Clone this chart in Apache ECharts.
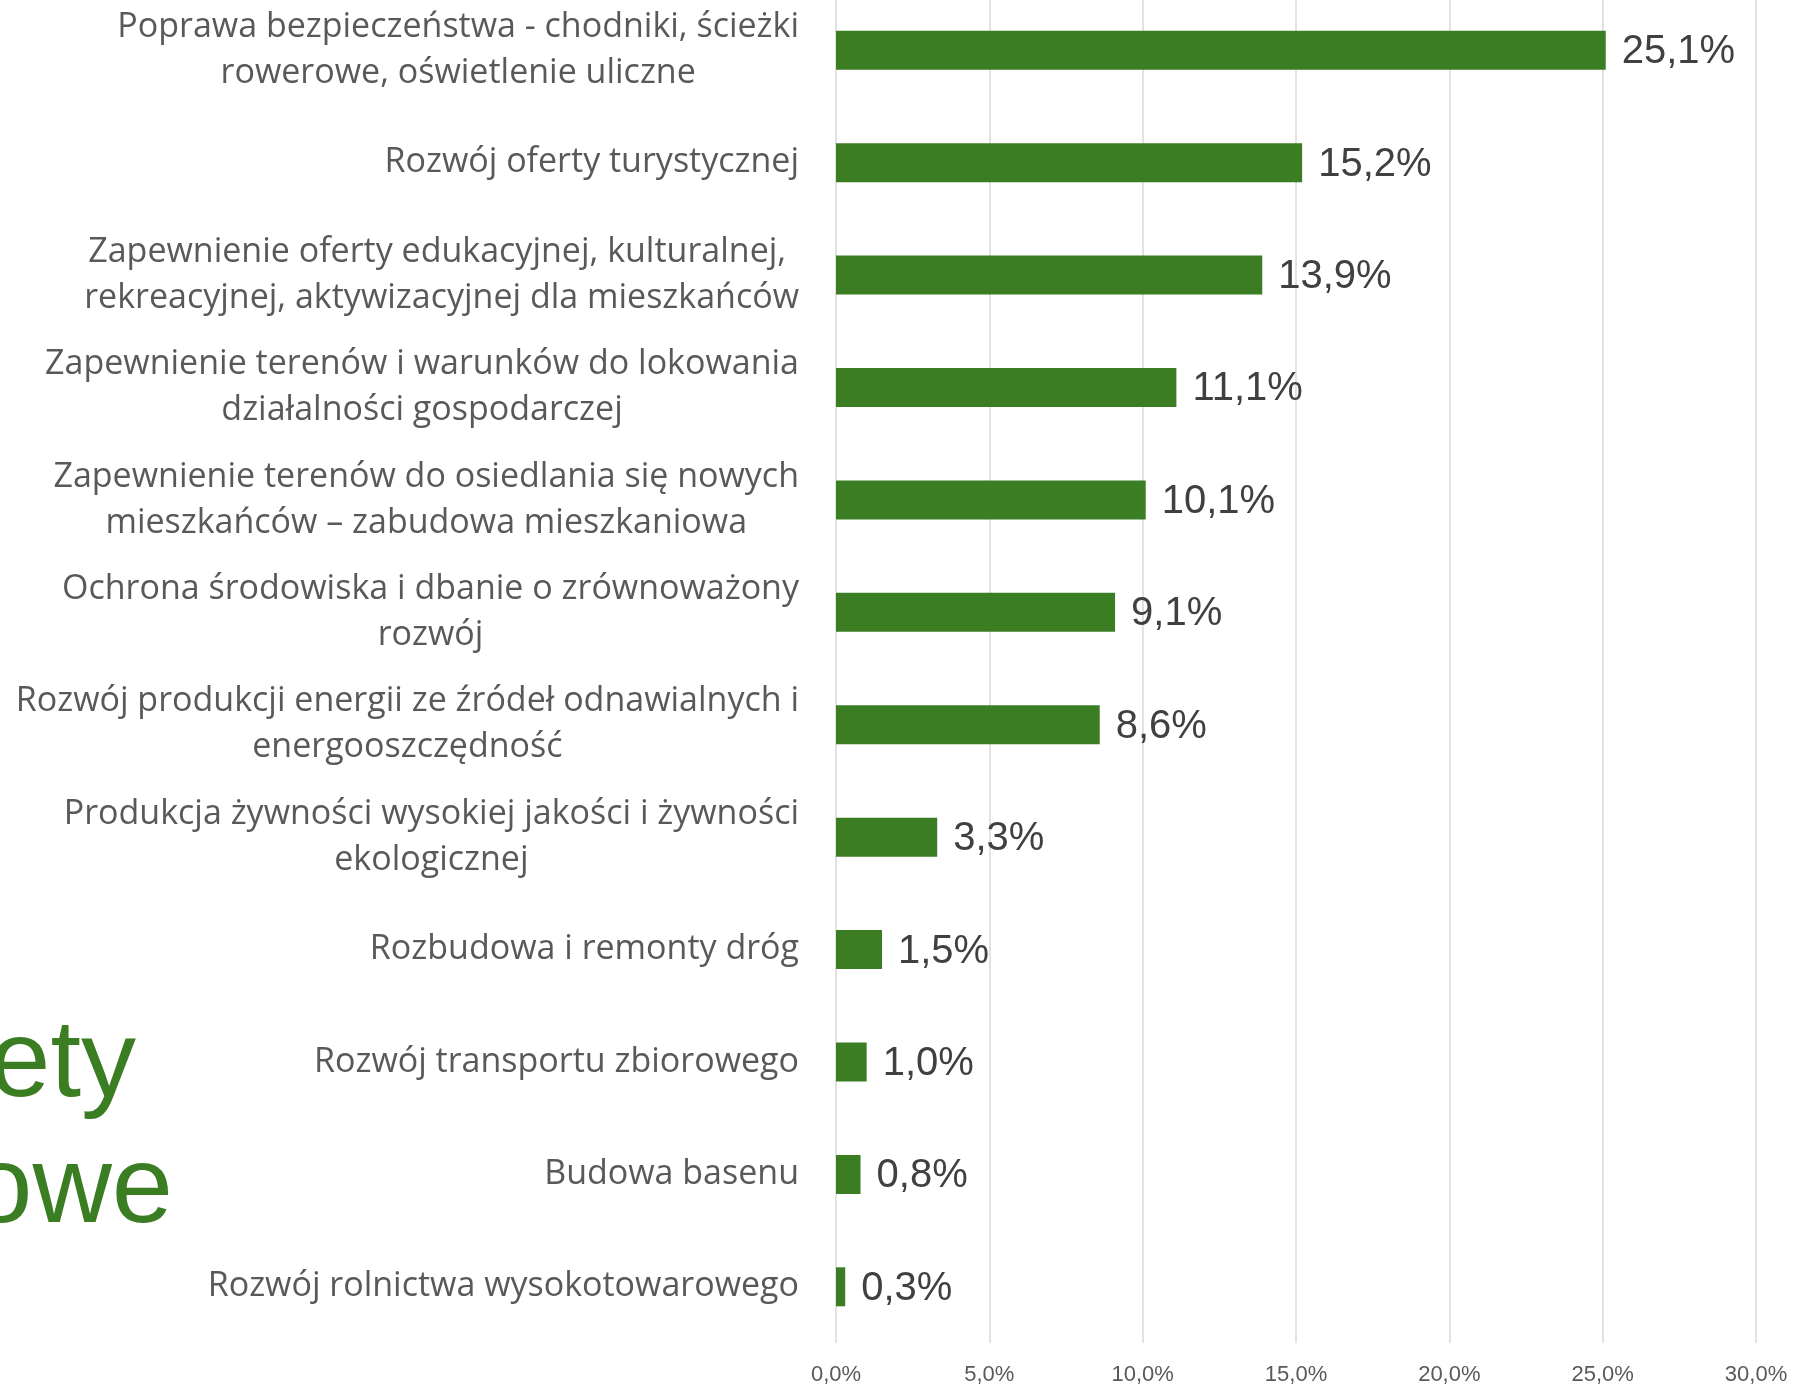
<!DOCTYPE html>
<html>
<head>
<meta charset="utf-8">
<script src="https://cdn.jsdelivr.net/npm/echarts@6/dist/echarts.min.js"></script>
<style>
html,body{margin:0;padding:0;background:#fff;}
#chart{width:1793px;height:1385px;}
</style>
</head>
<body>
<div id="chart"></div>
<script>
const categories = [
  'Poprawa bezpieczeństwa - chodniki, ścieżki\nrowerowe, oświetlenie uliczne',
  'Rozwój oferty turystycznej',
  'Zapewnienie oferty edukacyjnej, kulturalnej, \nrekreacyjnej, aktywizacyjnej dla mieszkańców',
  'Zapewnienie terenów i warunków do lokowania\ndziałalności gospodarczej',
  'Zapewnienie terenów do osiedlania się nowych\nmieszkańców – zabudowa mieszkaniowa',
  'Ochrona środowiska i dbanie o zrównoważony\nrozwój',
  'Rozwój produkcji energii ze źródeł odnawialnych i\nenergooszczędność',
  'Produkcja żywności wysokiej jakości i żywności\nekologicznej',
  'Rozbudowa i remonty dróg',
  'Rozwój transportu zbiorowego',
  'Budowa basenu',
  'Rozwój rolnictwa wysokotowarowego'
];
const values = [25.1, 15.2, 13.9, 11.1, 10.1, 9.1, 8.6, 3.3, 1.5, 1.0, 0.8, 0.3];
const axisMin = 0, axisMax = 30, axisStep = 5;
const sideTextLines = ['ety', 'owe'];

const fmt = v => v.toFixed(1).replace('.', ',') + '%';
const green = '#3b7d23';

const chart = echarts.init(document.getElementById('chart'));
chart.setOption({
  backgroundColor: '#ffffff',
  animation: false,
  grid: { left: 836, right: 37, top: -6, bottom: 42, outerBoundsMode: 'none', containLabel: false },
  xAxis: {
    type: 'value', min: axisMin, max: axisMax, interval: axisStep,
    axisLine: { show: false }, axisTick: { show: false },
    splitLine: { show: true, lineStyle: { color: '#d9d9d9', width: 1.5 } },
    axisLabel: { formatter: fmt, color: '#595959', fontFamily: 'Liberation Sans', fontSize: 22, margin: 21 }
  },
  yAxis: {
    type: 'category', data: categories, inverse: true,
    axisLine: { show: false }, axisTick: { show: false },
    axisLabel: {
      margin: 37, align: 'right', color: '#595959',
      fontFamily: 'Open Sans', fontSize: 34, lineHeight: 46,
      formatter: v => v.split('\n').map(s => '{c|' + s + '}').join('\n'),
      rich: { c: { align: 'center', color: '#595959', fontFamily: 'Open Sans', fontSize: 34, lineHeight: 46 } }
    }
  },
  series: [{
    type: 'bar', data: values, barWidth: 39,
    itemStyle: { color: green },
    label: { show: true, position: 'right', distance: 16, offset: [0, 2], formatter: p => fmt(p.value),
      color: '#404040', fontFamily: 'Liberation Sans', fontSize: 40 }
  }],
  graphic: [
    { type: 'text', x: 136, y: 1066, style: { text: sideTextLines[0], fill: green, font: '110px "Liberation Sans"', align: 'right', verticalAlign: 'middle' } },
    { type: 'text', x: 173, y: 1192, style: { text: sideTextLines[1], fill: green, font: '110px "Liberation Sans"', align: 'right', verticalAlign: 'middle' } }
  ]
});
</script>
</body>
</html>
